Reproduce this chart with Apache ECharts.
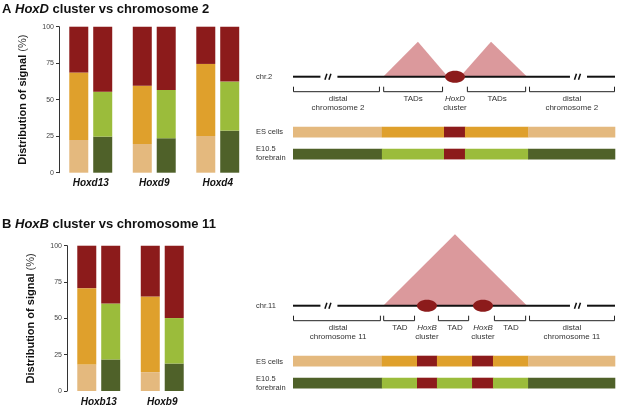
<!DOCTYPE html>
<html><head><meta charset="utf-8">
<script src="https://cdn.jsdelivr.net/npm/echarts@6/dist/echarts.min.js"></script>
<style>html,body{margin:0;padding:0;background:#fff}#c{width:617px;height:407px}</style>
</head><body><div id="c"></div>
<script>
// ---------- Panel A data (% of signal) ----------
const genesA = ['Hoxd13', 'Hoxd9', 'Hoxd4'];
const esDistalA  = [22.4, 19.7, 25.2];
const esTadA     = [46.2, 39.8, 49.3];
const esClusterA = [31.4, 40.5, 25.5];
const fbDistalA  = [24.7, 23.6, 28.8];
const fbTadA     = [30.8, 33.1, 33.6];
const fbClusterA = [44.5, 43.3, 37.6];
// ---------- Panel B data ----------
const genesB = ['Hoxb13', 'Hoxb9'];
const esDistalB  = [18.3, 13.0];
const esTadB     = [52.5, 52.1];
const esClusterB = [29.2, 34.9];
const fbDistalB  = [21.7, 18.9];
const fbTadB     = [38.6, 31.3];
const fbClusterB = [39.7, 49.8];
const yTicks = [0, 25, 50, 75, 100];

// ---------- schematic data (x in 0..100 schematic units) ----------
const chrA = [[0, 100]];
const breaksA = [11.0, 88.5];
const clustersA = [50.3];
const tadsA = [[28.0, 38.8, 48.1, 48.6], [51.9, 61.5, 72.7, 48.6]];
const bracketsA = [[0, 27.0], [28.0, 46.6], [54.0, 72.4], [73.3, 100]];
const labelsA = [[14.0, 'distal\nchromosome 2'], [37.3, 'TADs'], [50.3, '{i|HoxD}\ncluster'], [63.4, 'TADs'], [86.6, 'distal\nchromosome 2']];
const regionsA = [[0, 27.6, 'distal'], [27.6, 46.9, 'tad'], [46.9, 53.4, 'cluster'], [53.4, 73.0, 'tad'], [73.0, 100, 'distal']];

const chrB = [[0, 100]];
const breaksB = [11.0, 88.5];
const clustersB = [41.6, 59.0];
const tadsB = [[28.0, 50.3, 72.7, 100]];
const bracketsB = [[0, 27.3], [28.0, 37.9], [45.0, 54.7], [62.4, 72.4], [73.3, 100]];
const labelsB = [[14.0, 'distal\nchromosome 11'], [33.2, 'TAD'], [41.6, '{i|HoxB}\ncluster'], [50.3, 'TAD'], [59.0, '{i|HoxB}\ncluster'], [67.7, 'TAD'], [86.6, 'distal\nchromosome 11']];
const regionsB = [[0, 27.6, 'distal'], [27.6, 38.5, 'tad'], [38.5, 44.7, 'cluster'], [44.7, 55.6, 'tad'], [55.6, 62.1, 'cluster'], [62.1, 73.0, 'tad'], [73.0, 100, 'distal']];

// ---------- styles ----------
const FONT = '"Liberation Sans", Arial, sans-serif';
const RED = '#8c1b1b', ORANGE = '#dfa02c', TAN = '#e4b97e', LGREEN = '#9bbc3b', DGREEN = '#4f6129', PINK = '#db999c';
const ES_COL = {distal: TAN, tad: ORANGE, cluster: RED};
const FB_COL = {distal: DGREEN, tad: LGREEN, cluster: RED};

const chart = echarts.init(document.getElementById('c'), null, {renderer: 'canvas'});

const barDefs = [
  {stack: 'es', color: TAN}, {stack: 'es', color: ORANGE}, {stack: 'es', color: RED},
  {stack: 'fb', color: DGREEN}, {stack: 'fb', color: LGREEN}, {stack: 'fb', color: RED}
];
function bars(gi, arrs) {
  return barDefs.map((d, i) => ({
    type: 'bar', xAxisIndex: gi, yAxisIndex: gi, stack: d.stack + gi,
    data: arrs[i], barWidth: 19, barGap: '26%', itemStyle: {color: d.color},
    animation: false, silent: true
  }));
}

function yAxisBar(gi) {
  return {
    gridIndex: gi, type: 'value', min: 0, max: 100, interval: 25,
    axisLine: {show: true, lineStyle: {color: '#333', width: 1}},
    axisTick: {show: true, length: 3, lineStyle: {color: '#333'}},
    splitLine: {show: false},
    axisLabel: {fontSize: 7, color: '#444', margin: 5, fontFamily: FONT},
    name: '{b|Distribution of signal }{n|(%)}', nameLocation: 'middle', nameRotate: 90, nameGap: 31,
    nameTextStyle: {rich: {b: {fontSize: 11, fontWeight: 'bold', fontFamily: FONT, color: '#111'}, n: {fontSize: 11, fontFamily: FONT, color: '#333'}}}
  };
}
function xAxisBar(gi, cats) {
  return {
    gridIndex: gi, type: 'category', data: cats,
    axisLine: {show: false}, axisTick: {show: false},
    axisLabel: {fontSize: 10, fontWeight: 'bold', fontStyle: 'italic', color: '#111', margin: 6, fontFamily: FONT}
  };
}

function diagSeries(gi, chr, breaks, clusters, tads, brackets, labels, regions) {
  const common = {type: 'custom', xAxisIndex: gi, yAxisIndex: gi, animation: false, silent: true, clip: false};
  const base = (api) => api.coord([0, 0])[1];
  const X = (api, v) => api.coord([v, 0])[0];
  return [
    Object.assign({}, common, {
      data: tads, encode: {x: [0, 1, 2], y: 3},
      renderItem: (p, api) => ({type: 'polygon', shape: {points: [api.coord([api.value(0), 0]), api.coord([api.value(1), api.value(3)]), api.coord([api.value(2), 0])]}, style: {fill: PINK}})
    }),
    Object.assign({}, common, {
      data: chr, encode: {x: [0, 1]},
      renderItem: (p, api) => {
        const y = base(api); let cur = X(api, api.value(0)); const end = X(api, api.value(1));
        const ch = [];
        breaks.forEach(b => { const bx = X(api, b); ch.push({type: 'line', shape: {x1: cur, y1: y, x2: bx - 8, y2: y}, style: {stroke: '#111', lineWidth: 2}}); cur = bx + 9; });
        ch.push({type: 'line', shape: {x1: cur, y1: y, x2: end, y2: y}, style: {stroke: '#111', lineWidth: 2}});
        return {type: 'group', children: ch};
      }
    }),
    Object.assign({}, common, {
      data: breaks.map(b => [b]), encode: {x: 0},
      renderItem: (p, api) => {
        const y = base(api), x = X(api, api.value(0));
        return {type: 'group', children: [
          {type: 'line', shape: {x1: x - 3.5, y1: y + 3, x2: x - 1.5, y2: y - 3}, style: {stroke: '#111', lineWidth: 1.5}},
          {type: 'line', shape: {x1: x + 0.5, y1: y + 3, x2: x + 2.5, y2: y - 3}, style: {stroke: '#111', lineWidth: 1.5}}
        ]};
      }
    }),
    Object.assign({}, common, {
      data: clusters.map(c => [c]), encode: {x: 0},
      renderItem: (p, api) => ({type: 'ellipse', shape: {cx: X(api, api.value(0)), cy: base(api), rx: 10, ry: 6}, style: {fill: RED}})
    }),
    Object.assign({}, common, {
      data: brackets, encode: {x: [0, 1]},
      renderItem: (p, api) => {
        const y = base(api), x0 = X(api, api.value(0)), x1 = X(api, api.value(1));
        return {type: 'polyline', shape: {points: [[x0 + 0.5, y + 10], [x0 + 0.5, y + 15], [x1 - 0.5, y + 15], [x1 - 0.5, y + 10]]}, style: {stroke: '#222', lineWidth: 1, fill: null}};
      }
    }),
    Object.assign({}, common, {
      data: labels, encode: {x: 0},
      renderItem: (p, api) => {
        const y = base(api), x = X(api, api.value(0));
        return {type: 'text', style: {text: labels[p.dataIndex][1], x: x, y: y + 18, align: 'center', verticalAlign: 'top', fill: '#333', fontSize: 8, fontFamily: FONT, lineHeight: 9,
          rich: {i: {fontStyle: 'italic', fontSize: 8, fontFamily: FONT, fill: '#333', lineHeight: 9}}}};
      }
    }),
    Object.assign({}, common, {
      data: regions, encode: {x: [0, 1]},
      renderItem: (p, api) => {
        const y = base(api), x0 = X(api, api.value(0)), x1 = X(api, api.value(1));
        const t = regions[p.dataIndex][2];
        return {type: 'group', children: [
          {type: 'rect', shape: {x: x0, y: y + 50, width: x1 - x0 + 0.3, height: 10.7}, style: {fill: ES_COL[t]}},
          {type: 'rect', shape: {x: x0, y: y + 72, width: x1 - x0 + 0.3, height: 10.7}, style: {fill: FB_COL[t]}}
        ]};
      }
    })
  ];
}

const hiddenX = gi => ({gridIndex: gi, type: 'value', min: 0, max: 100, show: false});
const hiddenY = gi => ({gridIndex: gi, type: 'value', min: 0, max: 100, show: false});

const txt = (left, top, text) => ({type: 'text', left, top, style: {text, fontSize: 7.5, fontFamily: FONT, fill: '#333', lineHeight: 9}});

const option = {
  backgroundColor: '#fff',
  animation: false,
  grid: [
    {left: 59, top: 26.7, width: 190.5, height: 146},
    {left: 67, top: 245.7, width: 127, height: 146},
    {left: 293, top: 4.7, width: 322, height: 72},
    {left: 293, top: 234.3, width: 322, height: 71.4}
  ],
  xAxis: [xAxisBar(0, genesA), xAxisBar(1, genesB), hiddenX(2), hiddenX(3)],
  yAxis: [yAxisBar(0), yAxisBar(1), hiddenY(2), hiddenY(3)],
  series: [].concat(
    bars(0, [esDistalA, esTadA, esClusterA, fbDistalA, fbTadA, fbClusterA]),
    bars(1, [esDistalB, esTadB, esClusterB, fbDistalB, fbTadB, fbClusterB]),
    diagSeries(2, chrA, breaksA, clustersA, tadsA, bracketsA, labelsA, regionsA),
    diagSeries(3, chrB, breaksB, clustersB, tadsB, bracketsB, labelsB, regionsB)
  ),
  graphic: [
    {type: 'text', left: 2, top: 3, style: {text: '{b|A }{bi|HoxD}{b| cluster vs chromosome 2}',
      rich: {b: {fontSize: 13, fontWeight: 'bold', fontFamily: FONT, fill: '#111'}, bi: {fontSize: 13, fontWeight: 'bold', fontStyle: 'italic', fontFamily: FONT, fill: '#111'}}}},
    {type: 'text', left: 2, top: 218, style: {text: '{b|B }{bi|HoxB}{b| cluster vs chromosome 11}',
      rich: {b: {fontSize: 13, fontWeight: 'bold', fontFamily: FONT, fill: '#111'}, bi: {fontSize: 13, fontWeight: 'bold', fontStyle: 'italic', fontFamily: FONT, fill: '#111'}}}},
    txt(256, 72.5, 'chr.2'),
    txt(256, 127.5, 'ES cells'),
    txt(256, 144.5, 'E10.5\nforebrain'),
    txt(256, 301.5, 'chr.11'),
    txt(256, 357, 'ES cells'),
    txt(256, 374.5, 'E10.5\nforebrain')
  ]
};
chart.setOption(option);
</script></body></html>
